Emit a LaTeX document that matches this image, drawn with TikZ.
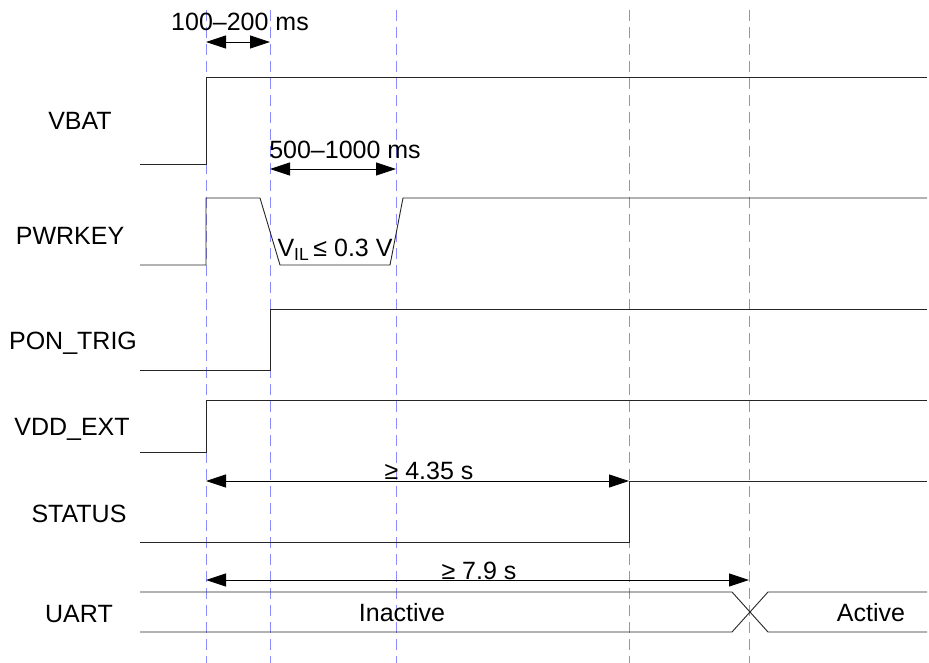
\documentclass[tikz,border=0pt]{standalone}
\usepackage{fontspec}
\setmainfont{Liberation Sans}
\usetikzlibrary{arrows.meta}

\tikzset{
  sig/.style={black!85, line width=0.9pt},
  guide/.style={blue!45, line width=0.8pt, dash pattern=on 11pt off 6pt},
  dim/.style={line width=0.8pt, {Triangle[length=20pt,width=13pt]}-{Triangle[length=20pt,width=13pt]}},
  lbl/.style={font=\fontsize{25}{29}\selectfont, inner sep=0pt, text height=17.9pt, text depth=0pt},
}

\begin{document}
\begin{tikzpicture}[x=1pt,y=-1pt]

   \useasboundingbox (0,0) rectangle (929,663);

   % time marks
   \foreach \t in {206,270,396,629,749}
     \draw [guide] (\t,10) -- (\t,663);

   % signals
   \draw [sig] (140,164) -- (206,164) -- (206,77) -- (927,77);
   \draw [sig] (140,265) -- (206,265) -- (206,198) -- (260,198) -- (280,265)
               -- (390,265) -- (403,198) -- (927,198);
   \draw [sig] (140,370) -- (270,370) -- (270,309) -- (927,309);
   \draw [sig] (140,452) -- (206,452) -- (206,400) -- (927,400);
   \draw [sig] (140,542) -- (629,542) -- (629,481) -- (927,481);
   \draw [sig] (140,592) -- (732,592) -- (768,632) -- (927,632);
   \draw [sig] (140,632) -- (732,632) -- (768,592) -- (927,592);

   % signal names
   \node [lbl] (vbat)    at (80,121) {VBAT};
   \node [lbl] (pwrkey)  at (70,236) {PWRKEY};
   \node [lbl] (pontrig) at (73,341) {PON\_TRIG};
   \node [lbl] (vddext)  at (72,427) {VDD\_EXT};
   \node [lbl] (status)  at (79,514) {STATUS};
   \node [lbl] (uart)    at (79,614) {UART};

   % timings
   \coordinate (d1a) at (206,42);  \coordinate (d1b) at (270,42);
   \coordinate (d2a) at (270,169); \coordinate (d2b) at (396,169);
   \coordinate (d3a) at (206,481); \coordinate (d3b) at (629,481);
   \coordinate (d4a) at (206,580); \coordinate (d4b) at (749,580);
   \draw [dim] (d1a) -- (d1b);
   \draw [dim] (d2a) -- (d2b);
   \draw [dim] (d3a) -- (d3b);
   \draw [dim] (d4a) -- (d4b);

   \node [lbl] (t1)  at (240,22)  {100--200 ms};
   \node [lbl] (t2)  at (345,150) {500--1000 ms};
   \node [lbl] (vil) at (335,248) {V\textsubscript{IL}\,≤ 0.3 V};
   \node [lbl] (t3)  at (429,471) {≥ 4.35 s};
   \node [lbl] (t4)  at (479,571) {≥ 7.9 s};

   \node [lbl] (inact) at (402,613) {Inactive};
   \node [lbl] (act)   at (871,613) {Active};

\end{tikzpicture}
\end{document}
